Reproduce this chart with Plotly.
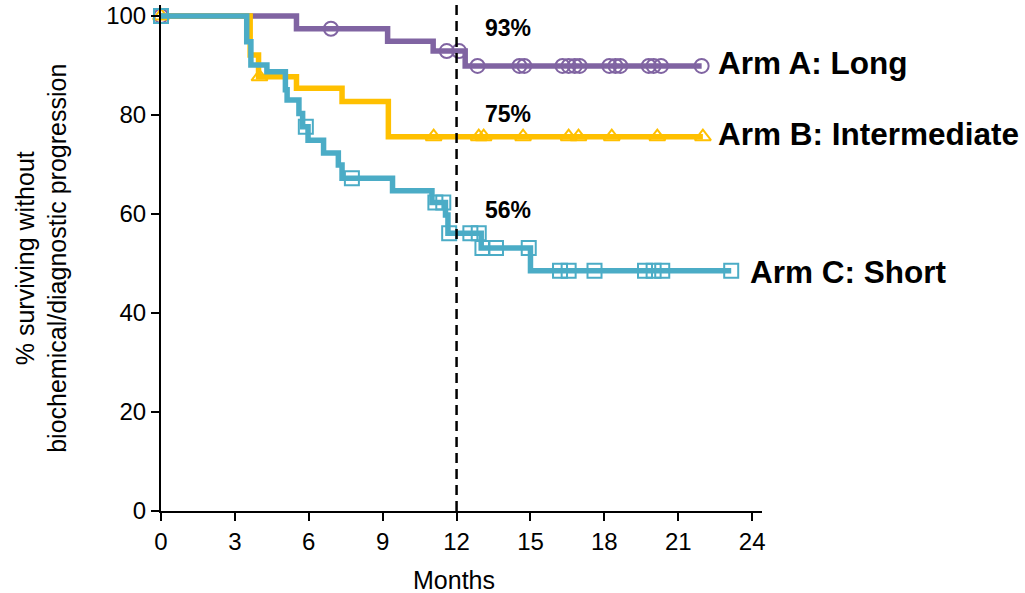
import plotly.graph_objects as go

# ---- Data ----
arm_names = ["Arm A: Long", "Arm B: Intermediate", "Arm C: Short"]

# Arm A (Long)
a_event_times = [5.5, 9.2, 11.05, 12.35]
a_surv = [97.4, 94.9, 92.9, 89.9]
a_censor_times = [0, 6.9, 11.6, 12.1, 12.85, 14.55, 14.75, 16.3, 16.55, 16.8, 17.0,
                  18.2, 18.45, 18.65, 19.8, 20.0, 20.3, 21.95]

# Arm B (Intermediate)
b_event_times = [3.62, 3.96, 5.5, 7.35, 9.23]
b_surv = [92.1, 87.7, 85.4, 82.7, 75.6]
b_censor_times = [0, 4.0, 11.07, 12.9, 13.1, 14.7, 16.55, 16.95, 18.3, 20.15, 22.0]

# Arm C (Short)
c_event_times = [3.48, 3.65, 4.3, 5.05, 5.12, 5.6, 5.75, 5.97, 6.6, 7.2, 7.35,
                 9.4, 11.0, 11.55, 11.65, 13.0, 15.0]
c_surv = [94.8, 90.1, 88.7, 85.1, 83.0, 80.3, 77.6, 74.9, 72.3, 69.9, 67.2,
          64.7, 62.3, 59.8, 56.1, 53.1, 48.5]
c_censor_times = [0, 5.88, 7.75, 11.14, 11.46, 11.7, 12.56, 12.9, 13.05, 13.6, 14.93,
                  16.2, 16.55, 17.6, 19.65, 20.0, 20.35, 23.15]

landmark_month = 12
landmark_labels = ["93%", "75%", "56%"]
x_ticks = [0, 3, 6, 9, 12, 15, 18, 21, 24]
y_ticks = [0, 20, 40, 60, 80, 100]
x_title = "Months"
y_title = "% surviving without<br>biochemical/diagnostic progression"

colors = ["#8064A2", "#FFC000", "#4BACC6"]
symbols = ["circle-open", "triangle-up-open", "square-open"]
FONT = "Liberation Sans, Arial, sans-serif"


def surv_at(t, times, surv):
    v = 100.0
    for tt, s in zip(times, surv):
        if tt <= t:
            v = s
    return v


arms = [
    (a_event_times, a_surv, a_censor_times),
    (b_event_times, b_surv, b_censor_times),
    (c_event_times, c_surv, c_censor_times),
]

fig = go.Figure()
for i, (et, sv, ct) in enumerate(arms):
    end_t = max(ct)
    xs = [0] + et + [end_t]
    ys = [100] + sv + [sv[-1]]
    fig.add_trace(go.Scatter(
        x=xs, y=ys, mode="lines", line=dict(color=colors[i], width=5.5, shape="hv"),
        showlegend=False, hoverinfo="skip", cliponaxis=False))
    fig.add_trace(go.Scatter(
        x=ct, y=[surv_at(t, et, sv) for t in ct], mode="markers",
        marker=dict(symbol=symbols[i], size=14, color=colors[i], line=dict(width=2, color=colors[i])),
        showlegend=False, cliponaxis=False, name=arm_names[i]))

# dashed landmark line
fig.add_shape(type="line", x0=landmark_month, x1=landmark_month, y0=0, y1=1,
              xref="x", yref="y domain", line=dict(color="black", width=2.5, dash="10px,6px"))

# landmark percentages
for i, (et, sv, ct) in enumerate(arms):
    fig.add_annotation(x=14.1, y=surv_at(landmark_month, et, sv) + 4.6,
                       text="<b>%s</b>" % landmark_labels[i],
                       showarrow=False, xanchor="center", yanchor="middle",
                       font=dict(family=FONT, size=23, color="black"))

# arm labels
label_pos = [(22.55, 90.5), (22.55, 76.2), (23.85, 48.3)]
for i, (lx, ly) in enumerate(label_pos):
    fig.add_annotation(x=lx, y=ly, text="<b>%s</b>" % arm_names[i], showarrow=False,
                       xanchor="left", yanchor="middle",
                       font=dict(family=FONT, size=31.5, color="black"))

# axis titles as annotations for exact placement
fig.add_annotation(x=0.487, y=-0.136, xref="paper", yref="paper", text=x_title,
                   showarrow=False, xanchor="center", yanchor="middle",
                   font=dict(family=FONT, size=25, color="black"))
fig.add_annotation(x=-0.2, y=0.5, xref="paper", yref="paper", text=y_title,
                   showarrow=False, xanchor="center", yanchor="middle", textangle=-90,
                   font=dict(family=FONT, size=25, color="black"))

axis_common = dict(showline=True, linecolor="black", linewidth=2, ticks="outside",
                   ticklen=8, tickwidth=2, tickcolor="black", showgrid=False, zeroline=False,
                   automargin=False,
                   tickfont=dict(family=FONT, size=24, color="black"))

fig.update_xaxes(range=[0, 24.4], tickvals=x_ticks, ticktext=[str(v) for v in x_ticks],
                 **axis_common)
fig.update_yaxes(range=[0, 102.2], tickvals=y_ticks, ticktext=[str(v) for v in y_ticks],
                 **axis_common)

fig.update_layout(width=1025, height=593, margin=dict(l=161, r=263, t=5, b=82, autoexpand=False),
                  plot_bgcolor="white", paper_bgcolor="white", showlegend=False)

fig.write_html("out.html", config={"displayModeBar": False},
               post_script="document.body.style.margin='0';document.body.style.overflow='hidden';")
